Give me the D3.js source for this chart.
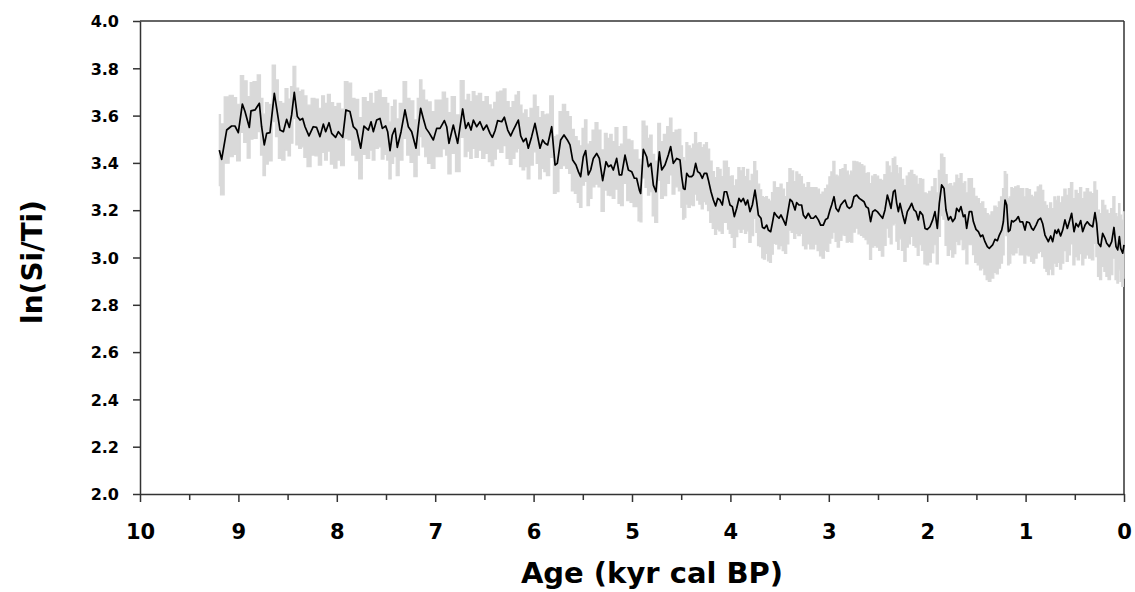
<!DOCTYPE html>
<html>
<head>
<meta charset="utf-8">
<script src="https://cdn.jsdelivr.net/npm/d3@7/dist/d3.min.js"></script>
<style>
  html, body { margin: 0; padding: 0; background: #fff; }
  svg { display: block; }
  text { font-family: "DejaVu Sans", sans-serif; font-weight: bold; fill: #000; }
</style>
</head>
<body>
<svg id="chart" width="1135" height="592"></svg>
<script>
// ---- Data (age in kyr cal BP, ln(Si/Ti) mean, half-width of the grey envelope) ----
const ages = [
  9.194,9.170,9.119,9.069,9.035,9.001,8.960,8.933,8.889,8.872,
  8.831,8.787,8.764,8.737,8.713,8.679,8.635,8.611,8.577,8.543,
  8.510,8.482,8.459,8.432,8.401,8.374,8.347,8.323,8.283,8.239,
  8.205,8.171,8.137,8.113,8.079,8.052,8.012,7.984,7.940,7.907,
  7.866,7.832,7.798,7.757,7.724,7.679,
  7.652,7.629,7.595,7.561,7.537,7.503,7.483,7.459,7.436,7.408,
  7.385,7.347,7.307,7.273,7.239,7.195,7.171,7.148,7.121,7.093,
  7.063,7.019,6.985,6.951,6.907,6.883,6.860,6.816,6.772,6.721,
  6.690,6.663,6.636,6.612,6.579,6.545,6.511,6.477,6.443,6.419,
  6.392,6.365,6.324,6.297,6.263,6.233,6.206,6.172,6.155,6.131,
  6.104,
  6.077,6.054,6.020,5.986,5.962,5.935,5.908,5.884,5.857,5.816,
  5.782,5.759,5.725,5.691,5.657,5.630,5.603,5.569,5.545,5.522,
  5.495,5.471,5.444,5.420,5.393,5.359,5.332,5.298,5.264,5.240,
  5.213,5.190,5.156,5.129,5.105,5.071,5.037,5.003,4.976,4.953,
  4.925,4.912,4.885,4.851,4.834,4.807,4.783,4.756,4.722,4.698,
  4.665,4.631,4.607,4.580,4.546,4.512,
  4.495,4.478,4.461,4.444,4.421,4.394,4.377,4.353,4.333,4.309,
  4.285,4.265,4.241,4.224,4.197,4.173,4.150,4.129,4.106,4.082,
  4.062,4.038,4.021,4.004,3.980,3.960,3.936,3.913,3.892,3.869,
  3.845,3.825,3.801,3.777,3.750,3.733,3.716,3.689,3.675,3.655,
  3.631,3.615,3.591,3.574,3.554,3.530,3.506,3.486,3.462,3.438,
  3.418,3.394,3.371,3.343,3.327,3.303,3.276,3.259,3.235,3.208,
  3.181,3.157,3.133,3.106,3.083,3.056,3.032,3.011,2.988,
  2.971,2.947,2.927,2.903,2.879,2.852,2.835,2.812,2.791,2.768,
  2.744,2.717,2.690,2.666,2.642,2.622,2.598,2.575,2.554,2.530,
  2.507,2.480,2.453,2.429,2.405,2.385,2.368,2.344,2.327,2.310,
  2.293,2.276,2.249,2.226,2.202,2.182,2.158,2.134,2.114,2.090,
  2.073,2.046,2.022,1.999,1.972,1.944,1.921,1.897,1.877,1.853,
  1.829,1.809,1.785,1.762,1.741,1.717,1.701,1.677,1.657,1.633,
  1.616,1.599,1.572,1.548,1.531,1.504,1.480,1.457,1.436,1.413,
  1.389,1.369,
  1.335,1.311,1.287,1.267,1.243,1.226,1.209,1.192,1.175,1.158,
  1.142,1.125,1.098,1.074,1.057,1.030,1.006,0.989,0.962,0.938,
  0.921,0.894,0.871,0.847,0.827,0.803,0.786,0.769,0.745,0.725,
  0.701,0.684,0.667,0.644,0.623,0.600,0.576,0.556,0.532,0.508,
  0.488,0.464,0.440,0.420,0.396,0.373,0.346,0.318,0.295,0.278,
  0.261,0.237,0.217,0.193,0.176,0.149,0.125,0.102,0.081,0.064,
  0.047,0.034,0.013,0.000
];

const lnSiTi = [
  3.454,3.415,3.539,3.556,3.556,3.528,3.649,3.617,3.550,3.620,
  3.624,3.652,3.553,3.476,3.525,3.528,3.694,3.631,3.539,3.532,
  3.584,3.550,3.603,3.698,3.596,3.581,3.588,3.553,3.514,3.553,
  3.550,3.511,3.564,3.532,3.570,3.525,3.508,3.532,3.508,3.624,
  3.617,3.553,3.539,3.462,3.556,3.539,
  3.574,3.532,3.581,3.588,3.546,3.556,3.532,3.452,3.518,3.546,
  3.466,3.532,3.624,3.553,3.532,3.462,3.553,3.631,3.588,3.546,
  3.528,3.497,3.546,3.546,3.579,3.553,3.483,3.560,3.483,3.628,
  3.546,3.570,3.539,3.581,3.553,3.574,3.539,3.560,3.525,3.508,
  3.536,3.579,3.574,3.593,3.539,3.514,3.539,3.567,3.581,3.514,
  3.490,
  3.504,3.462,3.511,3.567,3.518,3.462,3.497,3.483,3.476,3.553,
  3.391,3.398,3.497,3.518,3.497,3.476,3.412,3.391,3.363,3.342,
  3.426,3.452,3.349,3.370,3.419,3.440,3.419,3.325,3.405,3.384,
  3.391,3.370,3.419,3.349,3.349,3.433,3.370,3.363,3.335,3.335,
  3.285,3.271,3.457,3.426,3.384,3.398,3.306,3.278,3.447,3.370,
  3.391,3.433,3.469,3.398,3.419,3.412,
  3.342,3.292,3.288,3.356,3.342,3.342,3.349,3.398,3.363,3.356,
  3.335,3.356,3.356,3.328,3.278,3.243,3.218,3.250,3.243,3.222,
  3.278,3.278,3.250,3.222,3.215,3.173,3.208,3.250,3.236,3.250,
  3.222,3.243,3.194,3.222,3.285,3.236,3.180,3.166,3.128,3.123,
  3.137,3.116,3.109,3.144,3.190,3.176,3.166,3.180,3.159,3.137,
  3.187,3.246,3.236,3.201,3.232,3.222,3.222,3.180,3.166,3.187,
  3.166,3.166,3.176,3.159,3.137,3.137,3.161,3.166,3.201,
  3.222,3.257,3.208,3.194,3.222,3.236,3.243,3.215,3.208,3.215,
  3.257,3.264,3.250,3.243,3.236,3.215,3.208,3.152,3.194,3.201,
  3.194,3.180,3.166,3.201,3.264,3.236,3.208,3.278,3.285,3.229,
  3.194,3.229,3.180,3.144,3.194,3.208,3.229,3.201,3.194,3.159,
  3.194,3.180,3.123,3.119,3.130,3.159,3.194,3.123,3.229,3.307,
  3.292,3.201,3.159,3.173,3.152,3.166,3.208,3.194,3.215,3.173,
  3.180,3.123,3.194,3.194,3.152,3.119,3.109,3.088,3.095,3.067,
  3.046,3.039,
  3.053,3.077,3.071,3.095,3.116,3.151,3.243,3.222,3.109,3.116,
  3.156,3.151,3.159,3.173,3.151,3.151,3.116,3.151,3.147,3.123,
  3.116,3.137,3.159,3.166,3.144,3.095,3.081,3.067,3.091,3.067,
  3.116,3.102,3.119,3.091,3.116,3.159,3.123,3.151,3.187,3.109,
  3.144,3.130,3.156,3.109,3.137,3.151,3.137,3.130,3.190,3.144,
  3.060,3.046,3.102,3.081,3.060,3.046,3.067,3.127,3.046,3.032,
  3.088,3.039,3.018,3.053
];

const envelope = [
  0.15,0.15,0.14,0.13,0.12,0.12,0.12,0.13,0.13,0.12,
  0.12,0.12,0.12,0.13,0.13,0.12,0.12,0.12,0.12,0.12,
  0.13,0.12,0.12,0.11,0.12,0.12,0.12,0.13,0.13,0.12,
  0.12,0.12,0.12,0.12,0.12,0.13,0.13,0.12,0.12,0.12,
  0.12,0.12,0.13,0.13,0.12,0.12,
  0.12,0.12,0.12,0.12,0.13,0.12,0.12,0.12,0.12,0.12,
  0.12,0.12,0.12,0.12,0.13,0.12,0.12,0.12,0.12,0.12,
  0.13,0.12,0.12,0.12,0.12,0.12,0.13,0.12,0.12,0.12,
  0.12,0.12,0.12,0.12,0.13,0.12,0.12,0.12,0.12,0.12,
  0.12,0.12,0.13,0.12,0.12,0.12,0.12,0.12,0.12,0.13,
  0.12,
  0.12,0.13,0.12,0.12,0.12,0.13,0.12,0.12,0.13,0.13,
  0.12,0.12,0.12,0.13,0.12,0.12,0.13,0.12,0.13,0.13,
  0.12,0.13,0.13,0.12,0.12,0.13,0.12,0.13,0.12,0.12,
  0.13,0.12,0.13,0.12,0.13,0.12,0.13,0.13,0.12,0.12,
  0.13,0.12,0.12,0.13,0.12,0.12,0.13,0.13,0.12,0.12,
  0.13,0.12,0.12,0.13,0.12,0.13,
  0.13,0.13,0.12,0.13,0.13,0.12,0.13,0.13,0.12,0.13,
  0.13,0.12,0.13,0.13,0.13,0.12,0.12,0.13,0.13,0.12,
  0.13,0.13,0.13,0.12,0.13,0.13,0.12,0.13,0.13,0.13,
  0.12,0.13,0.13,0.13,0.12,0.13,0.13,0.12,0.13,0.13,
  0.12,0.13,0.13,0.13,0.13,0.12,0.13,0.13,0.13,0.12,
  0.13,0.13,0.13,0.12,0.13,0.13,0.12,0.13,0.13,0.13,
  0.13,0.13,0.12,0.13,0.13,0.14,0.13,0.14,0.14,
  0.14,0.15,0.14,0.15,0.15,0.14,0.15,0.15,0.14,0.15,
  0.15,0.14,0.15,0.15,0.15,0.14,0.15,0.16,0.15,0.15,
  0.15,0.15,0.16,0.15,0.14,0.15,0.15,0.14,0.14,0.16,
  0.16,0.15,0.15,0.16,0.15,0.15,0.14,0.15,0.15,0.15,
  0.14,0.15,0.15,0.15,0.15,0.14,0.14,0.15,0.14,0.13,
  0.13,0.15,0.15,0.14,0.15,0.15,0.14,0.14,0.14,0.14,
  0.14,0.15,0.14,0.14,0.14,0.14,0.14,0.14,0.14,0.14,
  0.14,0.14,
  0.14,0.14,0.14,0.14,0.14,0.14,0.12,0.13,0.14,0.14,
  0.14,0.14,0.14,0.13,0.14,0.14,0.14,0.14,0.14,0.14,
  0.14,0.14,0.14,0.14,0.14,0.14,0.14,0.14,0.14,0.14,
  0.14,0.14,0.14,0.14,0.14,0.13,0.14,0.14,0.13,0.14,
  0.14,0.14,0.14,0.14,0.14,0.14,0.14,0.14,0.13,0.14,
  0.14,0.14,0.14,0.14,0.14,0.14,0.14,0.13,0.14,0.14,
  0.14,0.14,0.14,0.14
];

const xMajorTicks = [10, 9, 8, 7, 6, 5, 4, 3, 2, 1, 0];
const xMinorTicks = [9.5, 8.5, 7.5, 6.5, 5.5, 4.5, 3.5, 2.5, 1.5, 0.5];
const yTicks = [2.0, 2.2, 2.4, 2.6, 2.8, 3.0, 3.2, 3.4, 3.6, 3.8, 4.0];
const xTitle = "Age (kyr cal BP)";
const yTitle = "ln(Si/Ti)";

// ---- Layout ----
const L = 140, R = 1124, T = 21, B = 494;
const svg = d3.select("#chart");
const x = d3.scaleLinear().domain([10, 0]).range([L, R]);
const y = d3.scaleLinear().domain([2, 4]).range([B, T]);

const n = Math.min(ages.length, lnSiTi.length, envelope.length);
const rows = d3.range(n).map(i => ({ age: ages[i], v: lnSiTi[i], e: envelope[i] }));

const axisColor = "#333333";

// frame (top and right)
svg.append("line").attr("x1", L).attr("x2", R).attr("y1", T).attr("y2", T)
  .attr("stroke", axisColor).attr("stroke-width", 1.5);
svg.append("line").attr("x1", R).attr("x2", R).attr("y1", T).attr("y2", B)
  .attr("stroke", axisColor).attr("stroke-width", 1.5);

// grey envelope
const area = d3.area()
  .x(d => x(d.age))
  .y0(d => y(d.v - d.e))
  .y1(d => y(d.v + d.e))
  .curve(d3.curveStep);
svg.append("path").datum(rows).attr("d", area)
  .attr("fill", "#d9d9d9").attr("stroke", "#d9d9d9").attr("stroke-width", 1.2);

// mean line
const line = d3.line().x(d => x(d.age)).y(d => y(d.v));
svg.append("path").datum(rows).attr("d", line)
  .attr("fill", "none").attr("stroke", "#000").attr("stroke-width", 1.7)
  .attr("stroke-linejoin", "round");

// x axis minor ticks
svg.append("g").attr("transform", `translate(0,${B})`)
  .call(d3.axisBottom(x).tickValues(xMinorTicks).tickSize(6).tickFormat(""))
  .call(g => g.select(".domain").remove())
  .call(g => g.selectAll("line").attr("stroke", axisColor).attr("stroke-width", 1.5));

// x axis major
const gx = svg.append("g").attr("transform", `translate(0,${B})`)
  .call(d3.axisBottom(x).tickValues(xMajorTicks).tickSize(8).tickSizeOuter(0).tickFormat(d3.format("d")));
gx.select(".domain").attr("stroke", axisColor).attr("stroke-width", 1.5);
gx.selectAll("line").attr("stroke", axisColor).attr("stroke-width", 1.5);
gx.selectAll("text").attr("y", 30).attr("dy", "0.71em")
  .style("font-size", "21px").style("font-family", "DejaVu Sans").style("font-weight", "bold").attr("fill", "#000");

// y axis
const gy = svg.append("g").attr("transform", `translate(${L},0)`)
  .call(d3.axisLeft(y).tickValues(yTicks).tickSize(7).tickSizeOuter(0).tickFormat(d3.format(".1f")));
gy.select(".domain").attr("stroke", axisColor).attr("stroke-width", 1.5);
gy.selectAll("line").attr("stroke", axisColor).attr("stroke-width", 1.5);
gy.selectAll("text").attr("x", -21).attr("dy", "0.36em")
  .style("font-size", "16px").style("font-family", "DejaVu Sans").style("font-weight", "bold").attr("fill", "#000");

// titles
svg.append("text").attr("x", 652).attr("y", 583).attr("text-anchor", "middle")
  .style("font-size", "29px").text(xTitle);
svg.append("text").attr("transform", "translate(42,262) rotate(-90)").attr("text-anchor", "middle")
  .style("font-size", "28px").text(yTitle);
</script>
</body>
</html>
